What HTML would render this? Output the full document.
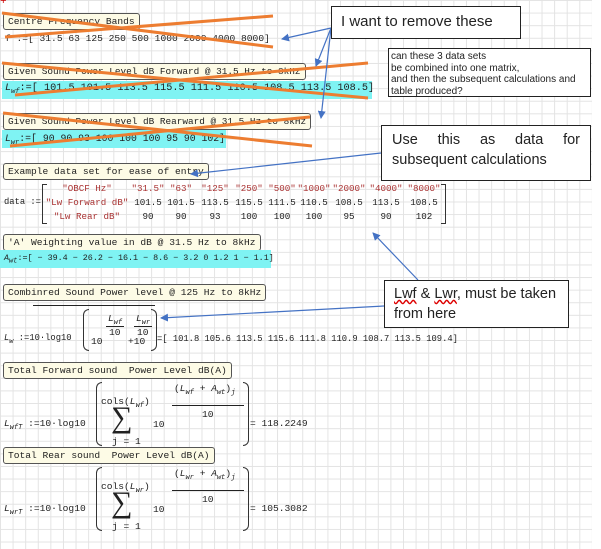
<!DOCTYPE html>
<html><head><meta charset="utf-8"><style>
html,body{margin:0;padding:0}
body{width:601px;height:549px;position:relative;overflow:hidden;background:#fff;
font-family:"Liberation Mono",monospace;font-size:9.6px;color:#222}
.grid{position:absolute;left:0;top:0;width:592px;height:549px;
background-image:linear-gradient(to right,#e3e3e3 1px,transparent 1px),linear-gradient(to bottom,#e3e3e3 1px,transparent 1px);
background-size:12.6px 12.6px}
.a{position:absolute;white-space:pre}
.lab{position:absolute;background:#fdfbe6;border:1px solid #555;border-radius:3px;padding:1px 4px;white-space:pre;line-height:13px}
.cy{position:absolute;background:#7ff3f3}
.box{position:absolute;background:#fff;border:1px solid #222;font-family:"Liberation Sans",sans-serif;color:#222}
.r{color:#a33}
sub{font-size:7px;font-style:italic}
i{font-style:italic}
.br{position:absolute;border:1px solid #333}
.c{position:absolute;width:60px;text-align:center;font-size:9.2px;white-space:pre}
</style></head><body>
<div class="grid"></div>
<div class="a" style="left:0;top:-4px;color:#c00;font-size:11px">+</div>

<div class="lab" style="left:3px;top:13px">Centre Frequency Bands</div>
<div class="a" style="left:5px;top:33px">f :=[ 31.5 63 125 250 500 1000 2000 4000 8000]</div>

<div class="lab" style="left:3px;top:63px;font-size:9.4px">Given Sound Power Level dB Forward @ 31.5 Hz to 8kHz</div>
<div class="cy" style="left:2px;top:81px;width:370px;height:18px"></div>
<div class="a" style="left:5px;top:83px;font-size:10.2px"><i>L</i><sub>wf</sub>:=[ 101.5 101.5 113.5 115.5 111.5 110.5 108.5 113.5 108.5]</div>

<div class="lab" style="left:3px;top:113px;font-size:9.4px">Given Sound Power Level dB Rearward @ 31.5 Hz to 8kHz</div>
<div class="cy" style="left:2px;top:130px;width:224px;height:18px"></div>
<div class="a" style="left:5px;top:133px;font-size:9.8px"><i>L</i><sub>wr</sub>:=[ 90 90 93 100 100 100 95 90 102]</div>

<div class="lab" style="left:3px;top:163px">Example data set for ease of entry</div>
<div class="a" style="left:4px;top:197px;font-size:8.8px">data :=</div>
<div class="br" style="left:42px;top:184px;width:4px;height:38px;border-right:none"></div>
<div class="br" style="left:441px;top:184px;width:4px;height:38px;border-left:none"></div>
<div class="c r" style="left:47px;top:183px;width:80px">"OBCF Hz"</div>
<div class="c r" style="left:45px;top:197px;width:84px">"Lw Forward dB"</div>
<div class="c r" style="left:47px;top:211px;width:80px">"Lw Rear dB"</div>
<div class="c r" style="left:118px;top:183px">"31.5"</div>
<div class="c r" style="left:151px;top:183px">"63"</div>
<div class="c r" style="left:185px;top:183px">"125"</div>
<div class="c r" style="left:219px;top:183px">"250"</div>
<div class="c r" style="left:252px;top:183px">"500"</div>
<div class="c r" style="left:284px;top:183px">"1000"</div>
<div class="c r" style="left:319px;top:183px">"2000"</div>
<div class="c r" style="left:356px;top:183px">"4000"</div>
<div class="c r" style="left:394px;top:183px">"8000"</div>
<div class="c" style="left:118px;top:197px">101.5</div>
<div class="c" style="left:151px;top:197px">101.5</div>
<div class="c" style="left:185px;top:197px">113.5</div>
<div class="c" style="left:219px;top:197px">115.5</div>
<div class="c" style="left:252px;top:197px">111.5</div>
<div class="c" style="left:284px;top:197px">110.5</div>
<div class="c" style="left:319px;top:197px">108.5</div>
<div class="c" style="left:356px;top:197px">113.5</div>
<div class="c" style="left:394px;top:197px">108.5</div>
<div class="c" style="left:118px;top:211px">90</div>
<div class="c" style="left:151px;top:211px">90</div>
<div class="c" style="left:185px;top:211px">93</div>
<div class="c" style="left:219px;top:211px">100</div>
<div class="c" style="left:252px;top:211px">100</div>
<div class="c" style="left:284px;top:211px">100</div>
<div class="c" style="left:319px;top:211px">95</div>
<div class="c" style="left:356px;top:211px">90</div>
<div class="c" style="left:394px;top:211px">102</div>

<div class="lab" style="left:3px;top:234px">'A' Weighting value in dB @ 31.5 Hz to 8kHz</div>
<div class="cy" style="left:0;top:250px;width:271px;height:18px"></div>
<div class="a" style="left:4px;top:253px;font-size:8.4px"><i>A</i><sub>wt</sub>:=[ − 39.4 − 26.2 − 16.1 − 8.6 − 3.2 0 1.2 1 − 1.1]</div>

<div class="lab" style="left:3px;top:284px">Combinred Sound Power level @ 125 Hz to 8kHz</div>
<div style="position:absolute;left:33px;top:305px;width:122px;border-top:1px solid #222"></div>
<div class="a" style="left:4px;top:333px;font-size:8.8px"><i>L</i><sub>w</sub> :=10·log10</div>
<div class="br" style="left:83px;top:309px;width:5px;height:40px;border-right:none;border-radius:6px 0 0 6px"></div>
<div class="a" style="left:91px;top:336px">10</div>
<div class="a" style="left:108px;top:313px"><i>L</i><sub>wf</sub></div>
<div style="position:absolute;left:106px;top:326px;width:18px;border-top:1px solid #222"></div>
<div class="a" style="left:109px;top:327px">10</div>
<div class="a" style="left:128px;top:336px">+10</div>
<div class="a" style="left:136px;top:313px"><i>L</i><sub>wr</sub></div>
<div style="position:absolute;left:134px;top:326px;width:18px;border-top:1px solid #222"></div>
<div class="a" style="left:137px;top:327px">10</div>
<div class="br" style="left:151px;top:309px;width:5px;height:40px;border-left:none;border-radius:0 6px 6px 0"></div>
<div class="a" style="left:157px;top:334px;font-size:8.8px">=[ 101.8 105.6 113.5 115.6 111.8 110.9 108.7 113.5 109.4]</div>

<div class="lab" style="left:3px;top:362px">Total Forward sound  Power Level dB(A)</div>
<div class="a" style="left:4px;top:418px"><i>L</i><sub>wfT</sub> :=10·log10</div>
<div class="br" style="left:96px;top:382px;width:5px;height:62px;border-right:none;border-radius:6px 0 0 6px"></div>
<div class="a" style="left:101px;top:396px">cols(<i>L</i><sub>wf</sub>)</div>
<div class="a" style="left:111px;top:401px;font-size:30px;font-family:'Liberation Serif',serif">∑</div>
<div class="a" style="left:112px;top:436px">j = 1</div>
<div class="a" style="left:153px;top:419px">10</div>
<div class="a" style="left:174px;top:383px">(<i>L</i><sub>wf</sub> + <i>A</i><sub>wt</sub>)<sub>j</sub></div>
<div style="position:absolute;left:172px;top:405px;width:72px;border-top:1px solid #222"></div>
<div class="a" style="left:202px;top:409px">10</div>
<div class="br" style="left:243px;top:382px;width:5px;height:62px;border-left:none;border-radius:0 6px 6px 0"></div>
<div class="a" style="left:250px;top:418px">= 118.2249</div>

<div class="lab" style="left:3px;top:447px">Total Rear sound  Power Level dB(A)</div>
<div class="a" style="left:4px;top:503px"><i>L</i><sub>wrT</sub> :=10·log10</div>
<div class="br" style="left:96px;top:467px;width:5px;height:62px;border-right:none;border-radius:6px 0 0 6px"></div>
<div class="a" style="left:101px;top:481px">cols(<i>L</i><sub>wr</sub>)</div>
<div class="a" style="left:111px;top:486px;font-size:30px;font-family:'Liberation Serif',serif">∑</div>
<div class="a" style="left:112px;top:521px">j = 1</div>
<div class="a" style="left:153px;top:504px">10</div>
<div class="a" style="left:174px;top:468px">(<i>L</i><sub>wr</sub> + <i>A</i><sub>wt</sub>)<sub>j</sub></div>
<div style="position:absolute;left:172px;top:490px;width:72px;border-top:1px solid #222"></div>
<div class="a" style="left:202px;top:494px">10</div>
<div class="br" style="left:243px;top:467px;width:5px;height:62px;border-left:none;border-radius:0 6px 6px 0"></div>
<div class="a" style="left:250px;top:503px">= 105.3082</div>

<svg style="position:absolute;left:0;top:0" width="601" height="549">
<defs><marker id="ar" markerWidth="8" markerHeight="8" refX="7" refY="4" orient="auto" markerUnits="userSpaceOnUse"><path d="M0,0 L8,4 L0,8 z" fill="#4472c4"/></marker></defs>
<g stroke="#ed7d31" stroke-width="3">
<line x1="2" y1="13" x2="273" y2="47"/><line x1="5" y1="37" x2="273" y2="16"/>
<line x1="2" y1="63" x2="368" y2="98"/><line x1="15" y1="95" x2="368" y2="63"/>
<line x1="3" y1="113" x2="312" y2="146"/><line x1="10" y1="146" x2="310" y2="117"/>
</g>
<g stroke="#4472c4" stroke-width="1.2" fill="none" marker-end="url(#ar)">
<line x1="331" y1="28" x2="282" y2="39"/>
<line x1="331" y1="28" x2="316" y2="66"/>
<line x1="331" y1="28" x2="321" y2="118"/>
<line x1="381" y1="153" x2="191" y2="174"/>
<line x1="418" y1="280" x2="373" y2="233"/>
<line x1="384" y1="306" x2="161" y2="318"/>
</g>
</svg>

<div class="box" style="left:331px;top:6px;width:190px;height:33px;font-size:15px;line-height:30px;padding-left:9px;box-sizing:border-box">I want to remove these</div>
<div class="box" style="left:388px;top:48px;width:203px;height:49px;font-size:10px;line-height:11.5px;padding:2px 2px;box-sizing:border-box">can these 3 data sets<br>be combined into one matrix,<br>and then the subsequent calculations and<br>table produced?</div>
<div class="box" style="left:381px;top:125px;width:210px;height:56px;font-size:14.5px;line-height:20px;padding:4px 10px;box-sizing:border-box"><span style="display:flex;justify-content:space-between"><span>Use</span><span>this</span><span>as</span><span>data</span><span>for</span></span>subsequent calculations</div>
<div class="box" style="left:384px;top:280px;width:185px;height:48px;font-size:14.5px;line-height:20px;padding:3px 9px;box-sizing:border-box"><span style="text-decoration:underline wavy #d00">Lwf</span> &amp; <span style="text-decoration:underline wavy #d00">Lwr</span>, must be taken from here</div>
</body></html>
